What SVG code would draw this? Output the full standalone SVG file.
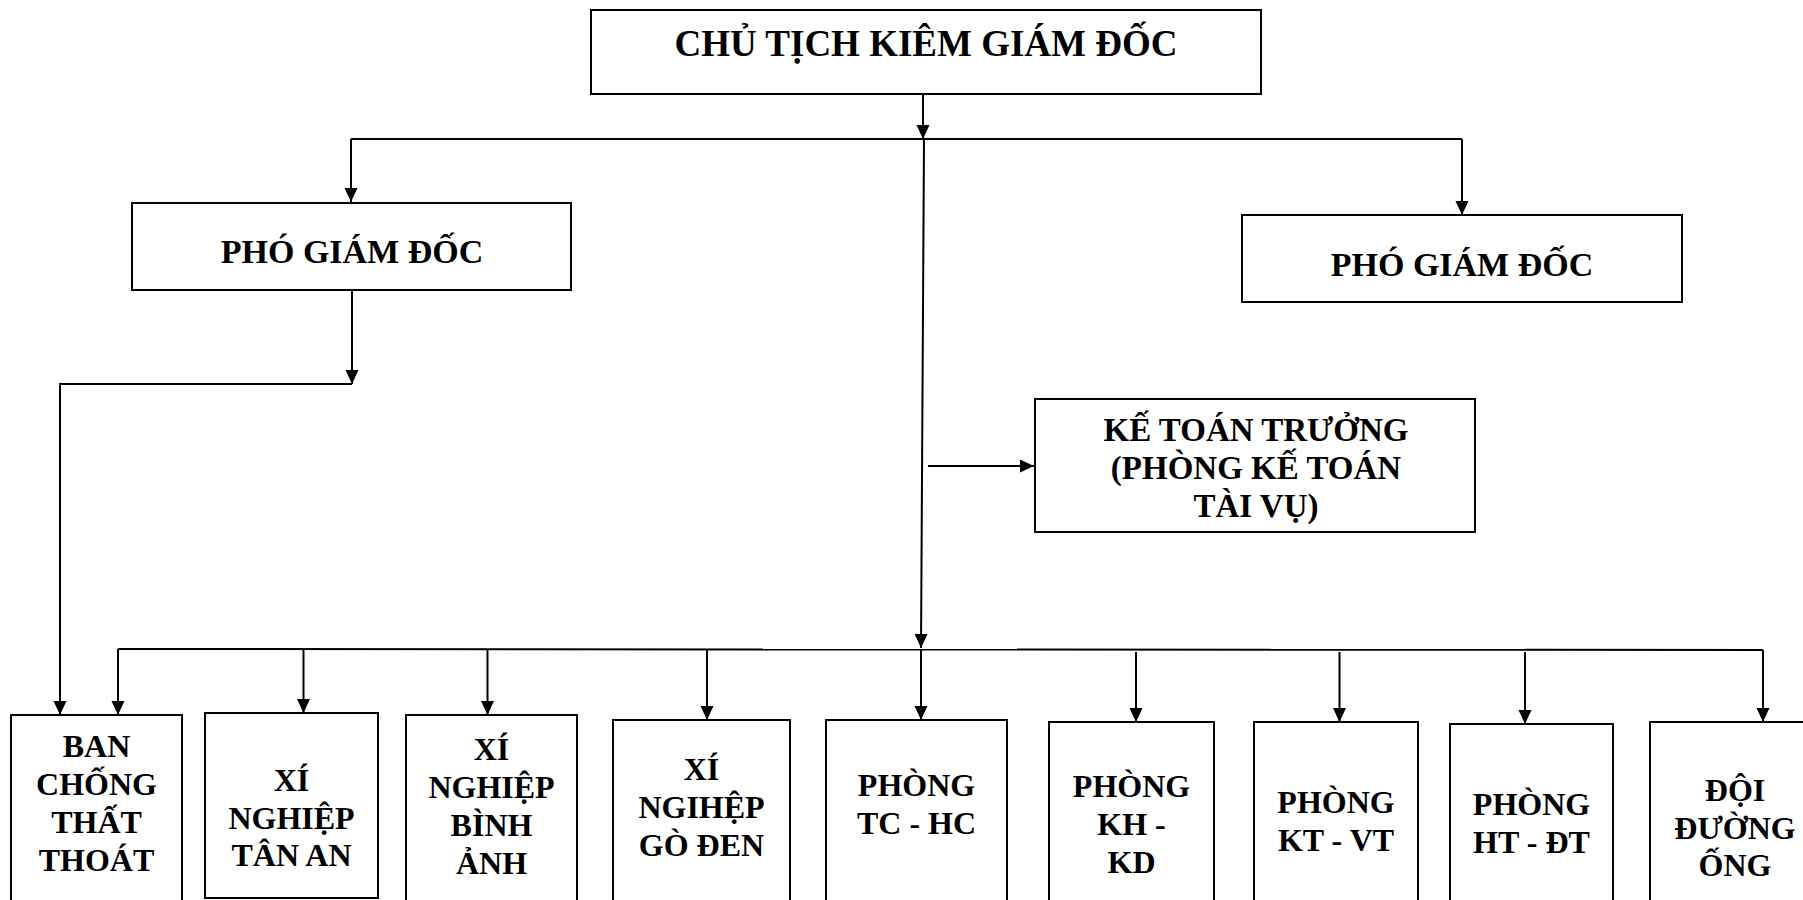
<svg xmlns="http://www.w3.org/2000/svg" width="1803" height="900" viewBox="0 0 1803 900">
<style>
.box{fill:#fff;stroke:#000;stroke-width:2}
.t{font-family:"Liberation Serif","Times New Roman",serif;font-weight:bold;fill:#000;text-anchor:middle}
.t37{font-size:37px}
.t34{font-size:34px}
.t33{font-size:33px}
.t32{font-size:32px}
.ln{fill:none;stroke:#000;stroke-width:2}
</style>
<defs>
<marker id="ah" markerUnits="userSpaceOnUse" markerWidth="14" markerHeight="14" refX="14" refY="6.5" orient="auto">
<path d="M0,0 L14,6.5 L0,13 z" fill="#000"/>
</marker>
</defs>
<rect width="1803" height="900" fill="#fff"/>
<g id="connectors">
<path class="ln" d="M923,94 L923,139" marker-end="url(#ah)"/>
<path class="ln" d="M351,139 L1462,139"/>
<path class="ln" d="M351,139 L351,202" marker-end="url(#ah)"/>
<path class="ln" d="M1462,139 L1462,215" marker-end="url(#ah)"/>
<path class="ln" d="M352,290 L352,384" marker-end="url(#ah)"/>
<path class="ln" d="M352,384 L60,384 L60,715" marker-end="url(#ah)"/>
<path class="ln" d="M924,139 L921,648" marker-end="url(#ah)"/>
<path class="ln" d="M928,466 L1034,466" marker-end="url(#ah)"/>
<path class="ln" d="M118,649 L1763,650"/>
<path class="ln" d="M118,649 L118,715" marker-end="url(#ah)"/>
<path class="ln" d="M303.5,649 L303.5,713" marker-end="url(#ah)"/>
<path class="ln" d="M487.5,649 L487.5,715" marker-end="url(#ah)"/>
<path class="ln" d="M707,649 L707,720" marker-end="url(#ah)"/>
<path class="ln" d="M921,649 L921,720" marker-end="url(#ah)"/>
<path class="ln" d="M1136,652 L1136,722" marker-end="url(#ah)"/>
<path class="ln" d="M1339.5,652 L1339.5,722" marker-end="url(#ah)"/>
<path class="ln" d="M1525,652 L1525,724" marker-end="url(#ah)"/>
<path class="ln" d="M1763,650 L1763,722" marker-end="url(#ah)"/>
</g>
<g id="n-ctgd">
<rect class="box" x="591" y="10" width="670" height="84"/>
<text class="t t37" x="926" y="56">CHỦ TỊCH KIÊM GIÁM ĐỐC</text>
</g>
<g id="n-pgd1">
<rect class="box" x="132" y="203" width="439" height="87"/>
<text class="t t34" x="352" y="263">PHÓ GIÁM ĐỐC</text>
</g>
<g id="n-pgd2">
<rect class="box" x="1242" y="215" width="440" height="87"/>
<text class="t t34" x="1462" y="276">PHÓ GIÁM ĐỐC</text>
</g>
<g id="n-ktt">
<rect class="box" x="1035" y="399" width="440" height="133"/>
<text class="t t33" x="1256" y="441">KẾ TOÁN TRƯỞNG</text>
<text class="t t33" x="1256" y="479">(PHÒNG KẾ TOÁN</text>
<text class="t t33" x="1256" y="517">TÀI VỤ)</text>
</g>
<g id="n-bctt">
<rect class="box" x="11" y="715" width="171" height="200"/>
<text class="t t32" x="96.5" y="757">BAN</text>
<text class="t t32" x="96.5" y="795">CHỐNG</text>
<text class="t t32" x="96.5" y="833">THẤT</text>
<text class="t t32" x="96.5" y="871">THOÁT</text>
</g>
<g id="n-xnta">
<rect class="box" x="205" y="713" width="173" height="185"/>
<text class="t t32" x="291.5" y="791">XÍ</text>
<text class="t t32" x="291.5" y="829">NGHIỆP</text>
<text class="t t32" x="291.5" y="866">TÂN AN</text>
</g>
<g id="n-xnba">
<rect class="box" x="406" y="715" width="171" height="200"/>
<text class="t t32" x="491.5" y="760">XÍ</text>
<text class="t t32" x="491.5" y="798">NGHIỆP</text>
<text class="t t32" x="491.5" y="836">BÌNH</text>
<text class="t t32" x="491.5" y="874">ẢNH</text>
</g>
<g id="n-xngd">
<rect class="box" x="613" y="720" width="177" height="200"/>
<text class="t t32" x="701.5" y="780">XÍ</text>
<text class="t t32" x="701.5" y="818">NGIHỆP</text>
<text class="t t32" x="701.5" y="856">GÒ ĐEN</text>
</g>
<g id="n-tchc">
<rect class="box" x="826" y="720" width="181" height="200"/>
<text class="t t32" x="916.5" y="796">PHÒNG</text>
<text class="t t32" x="916.5" y="834">TC - HC</text>
</g>
<g id="n-khkd">
<rect class="box" x="1049" y="722" width="165" height="200"/>
<text class="t t32" x="1131.5" y="797">PHÒNG</text>
<text class="t t32" x="1131.5" y="835">KH -</text>
<text class="t t32" x="1131.5" y="873">KD</text>
</g>
<g id="n-ktvt">
<rect class="box" x="1254" y="722" width="164" height="200"/>
<text class="t t32" x="1336" y="813">PHÒNG</text>
<text class="t t32" x="1336" y="851">KT - VT</text>
</g>
<g id="n-htdt">
<rect class="box" x="1450" y="724" width="163" height="200"/>
<text class="t t32" x="1531.5" y="815">PHÒNG</text>
<text class="t t32" x="1531.5" y="853">HT - ĐT</text>
</g>
<g id="n-ddo">
<rect class="box" x="1650" y="722" width="172" height="200"/>
<text class="t t32" x="1735" y="801">ĐỘI</text>
<text class="t t32" x="1735" y="839">ĐƯỜNG</text>
<text class="t t32" x="1735" y="876">ỐNG</text>
</g>
</svg>
